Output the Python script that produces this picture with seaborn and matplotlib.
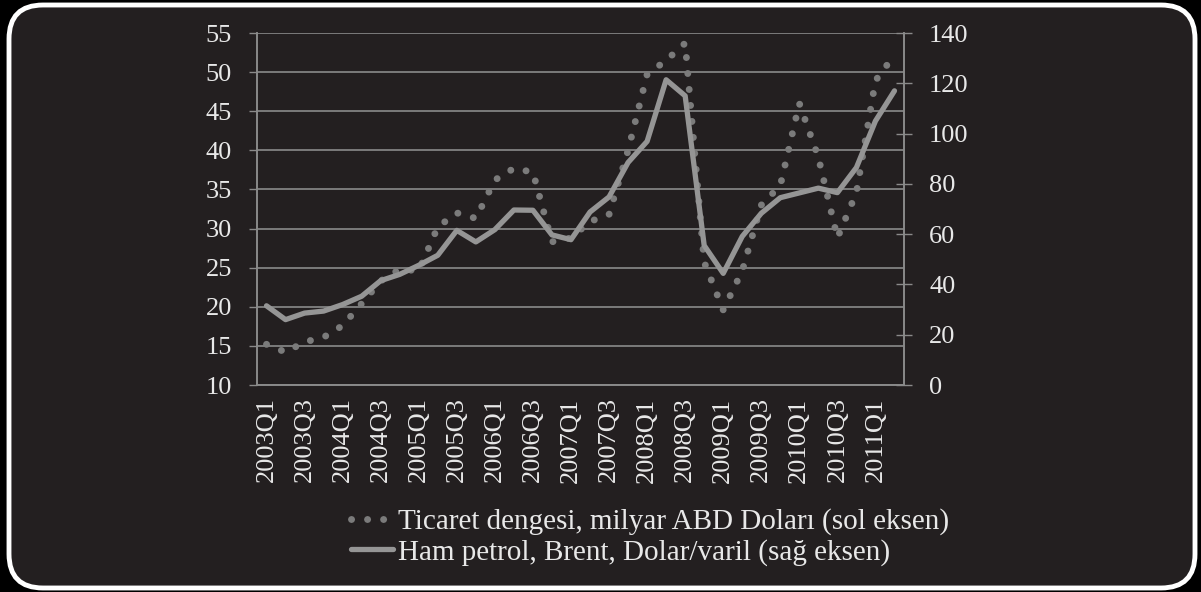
import matplotlib
matplotlib.use("Agg")
import matplotlib.pyplot as plt
from matplotlib.patches import FancyBboxPatch
from matplotlib.lines import Line2D
import numpy as np
import pandas as pd
import seaborn as sns

# quarters 2003Q1 .. 2011Q2
quarters = [f"{y}Q{q}" for y in range(2003, 2012) for q in range(1, 5)][:34]

# trade balance, billion USD (left axis)
trade = [15.2, 14.2, 15.5, 16.1, 17.6, 20.4, 23.3, 24.8, 24.6, 30.2,
         32.0, 31.3, 36.2, 37.7, 37.2, 28.3, 28.8, 30.9, 31.8, 40.0,
         49.7, 51.5, 53.7, 25.7, 19.6, 24.6, 33.0, 35.5, 46.0, 39.1,
         28.8, 34.6, 48.9, 52.2]

# Brent crude, USD/barrel (right axis)
brent = [31.5, 26.0, 28.6, 29.4, 32.0, 35.3, 41.5, 44.0, 47.6, 51.6,
         61.5, 56.9, 61.8, 69.6, 69.5, 59.7, 57.8, 68.8, 74.8, 88.5,
         96.9, 121.4, 115.0, 55.5, 44.4, 59.1, 68.3, 74.5, 76.4, 78.3,
         76.5, 86.5, 105.0, 117.0]

trade_label = "Ticaret dengesi, milyar ABD Doları (sol eksen)"
brent_label = "Ham petrol, Brent, Dolar/varil (sağ eksen)"

df = pd.DataFrame({"x": np.arange(len(quarters)), "trade": trade, "brent": brent})

sns.set_style("dark")
plt.rcParams["font.family"] = ["Liberation Serif", "DejaVu Serif"]

bg = "#231f20"
txt = "#e8e8e8"
grid = "#8a8a8a"
fs = 19

fig = plt.figure(figsize=(12.01, 5.92), dpi=100, facecolor="black")
# rounded white frame, in pixels
box = FancyBboxPatch((9, 4), 1186, 583,
                     boxstyle="round,pad=0,rounding_size=34",
                     transform=None, facecolor=bg,
                     edgecolor="white", linewidth=3.5, zorder=-5)
fig.patches.append(box)

ax = fig.add_axes([257 / 1201, 1 - 385 / 592, (904 - 257) / 1201, (385 - 33) / 592])
ax.set_facecolor(bg)
ax2 = ax.twinx()

dots = (0, (0.01, 2.3))
sns.lineplot(data=df, x="x", y="trade", ax=ax, color="#7b7b7b", linewidth=5,
             zorder=3)
line_t = ax.lines[-1]
line_t.set_linestyle(dots)
line_t.set_dash_capstyle("round")

sns.lineplot(data=df, x="x", y="brent", ax=ax2, color="#959595", linewidth=3.8,
             zorder=4)

ax.set_xlim(-0.5, len(quarters) - 0.5)
ax.set_ylim(10, 55)
ax2.set_ylim(0, 140)
ax.set_yticks(range(10, 56, 5))
ax2.set_yticks(range(0, 141, 20))

ax.set_xticks(np.arange(0, len(quarters), 2))
ax.set_xticklabels(quarters[::2], rotation=90)
ax.set_xticks(np.arange(-0.5, len(quarters), 1), minor=True)
ax.tick_params(axis="x", which="major", length=0, pad=9, labelsize=fs, colors=txt)
ax.tick_params(axis="x", which="minor", length=6, width=1, color=grid, direction="out")
ax.tick_params(axis="y", length=6, width=1, color=grid, labelsize=fs,
               labelcolor=txt, pad=12, direction="out")
ax2.tick_params(axis="y", length=12, width=1, color=grid, labelsize=fs,
                labelcolor=txt, pad=12, direction="inout")

ax.set_xlabel("")
ax.set_ylabel("")
ax2.set_ylabel("")
ax.grid(False)
ax2.grid(False)
ax.yaxis.grid(True, color=grid, linewidth=1.2)
ax.set_axisbelow(True)

for a in (ax, ax2):
    a.spines["top"].set_visible(False)
    for s in ("left", "bottom", "right"):
        a.spines[s].set_visible(True)
        a.spines[s].set_color(grid)
        a.spines[s].set_linewidth(1.2)
ax2.patch.set_visible(False)

handles = [
    Line2D([], [], color="#7b7b7b", linewidth=5, linestyle=dots,
           dash_capstyle="round"),
    Line2D([], [], color="#959595", linewidth=3.8),
]
leg = fig.legend(handles, [trade_label, brent_label], loc="center",
                 bbox_to_anchor=(0.541, 0.093), frameon=False, fontsize=21,
                 labelcolor=txt, handlelength=1.45, handletextpad=0.15,
                 labelspacing=0.12)

fig.savefig("out.png", dpi=100, facecolor="black")
